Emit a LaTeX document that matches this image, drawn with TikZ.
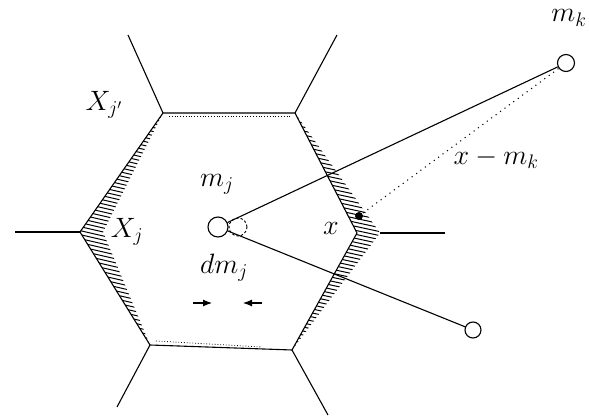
\documentclass[tikz,border=0pt]{standalone}
\usepackage{fix-cm}
\usepackage{tikz}
\usetikzlibrary{arrows.meta,calc}

\begin{document}
\begin{tikzpicture}[x=1pt,y=-1pt,>={Latex[length=9pt,width=7pt]},line width=1.1pt,
    every node/.style={font=\fontsize{28}{32}\selectfont},
    site/.style={draw,circle,inner sep=0pt,minimum size=17pt,line width=1.1pt},
    hatch/.style={line width=1pt}]
  \useasboundingbox (0,0) rectangle (589,419);
  % corners of the cell X_j
  \coordinate (tl) at (163,113);
  \coordinate (tr) at (295,113);
  \coordinate (l) at (80,232);
  \coordinate (r) at (357,233);
  \coordinate (rs) at (380,233);
  \coordinate (bl) at (150,345);
  \coordinate (br) at (292,350);
  % free ends of the neighbouring edges
  \coordinate (tlo) at (128,35);
  \coordinate (tro) at (337,35);
  \coordinate (lo) at (15,232);
  \coordinate (ro) at (445,233);
  \coordinate (blo) at (117,407);
  \coordinate (bro) at (328,415);
  % hatched strips
  \begin{scope}
    \clip (tl) -- (l) -- (bl) -- ($(l)+(23,0)$) -- cycle;
    \foreach \y in {90,94,...,360} \draw[hatch] (60,\y) -- (190,\y+30);
  \end{scope}
  \begin{scope}
    \clip (tr) -- (r) -- (br) -- (rs) -- cycle;
    \foreach \y in {90,94,...,360} \draw[hatch] (280,\y) -- (400,\y+26);
  \end{scope}
  \draw[dotted,line width=0.8pt] ($(tl)+(6,3)$) -- ($(tr)+(-4,3)$);
  \draw[dotted,line width=0.8pt] ($(bl)+(6,-4)$) -- ($(br)+(-30,-3)$);
  % cell and neighbours
  \draw (tl) -- (tr) -- (r) -- (br) -- (bl) -- (l) -- cycle;
  \draw (tl) -- (tlo);
  \draw (tr) -- (tro);
  \draw (l) -- (lo);
  \draw (rs) -- (ro);
  \draw (bl) -- (blo);
  \draw (br) -- (bro);
  % codebook vectors
  \node[site,minimum size=20pt] (mj) at (218,227) {};
  \node[site,minimum size=18pt,dash pattern=on 2.5pt off 2pt,line width=0.9pt] (mjd) at (238,227) {};
  \node[site] (mk) at (566,63) {};
  \node[site,minimum size=16pt] (mo) at (473,330) {};
  \draw (mj) -- (mk);
  \draw (mj) -- (mo);
  \fill (359,216) coordinate (xp) circle (4pt);
  \draw[line width=1.5pt,line cap=round,dash pattern=on 0pt off 5.5pt] (xp) -- (mk);
  % shift of m_j
  \coordinate (dl) at (193,303);
  \coordinate (dlt) at (212,303);
  \coordinate (dr) at (262,303);
  \coordinate (drt) at (243,303);
  \draw[->] (dl) -- (dlt);
  \draw[->] (dr) -- (drt);
  % labels
  \node at (569,18) {$m_k$};
  \node at (217,184) {$m_j$};
  \node at (224,268) {$dm_j$};
  \node at (127,232) {$X_j$};
  \node at (104,105) {$X_{j'}$};
  \node at (331,228) {$x$};
  \node at (496,158) {$x - m_k$};
\end{tikzpicture}
\end{document}
